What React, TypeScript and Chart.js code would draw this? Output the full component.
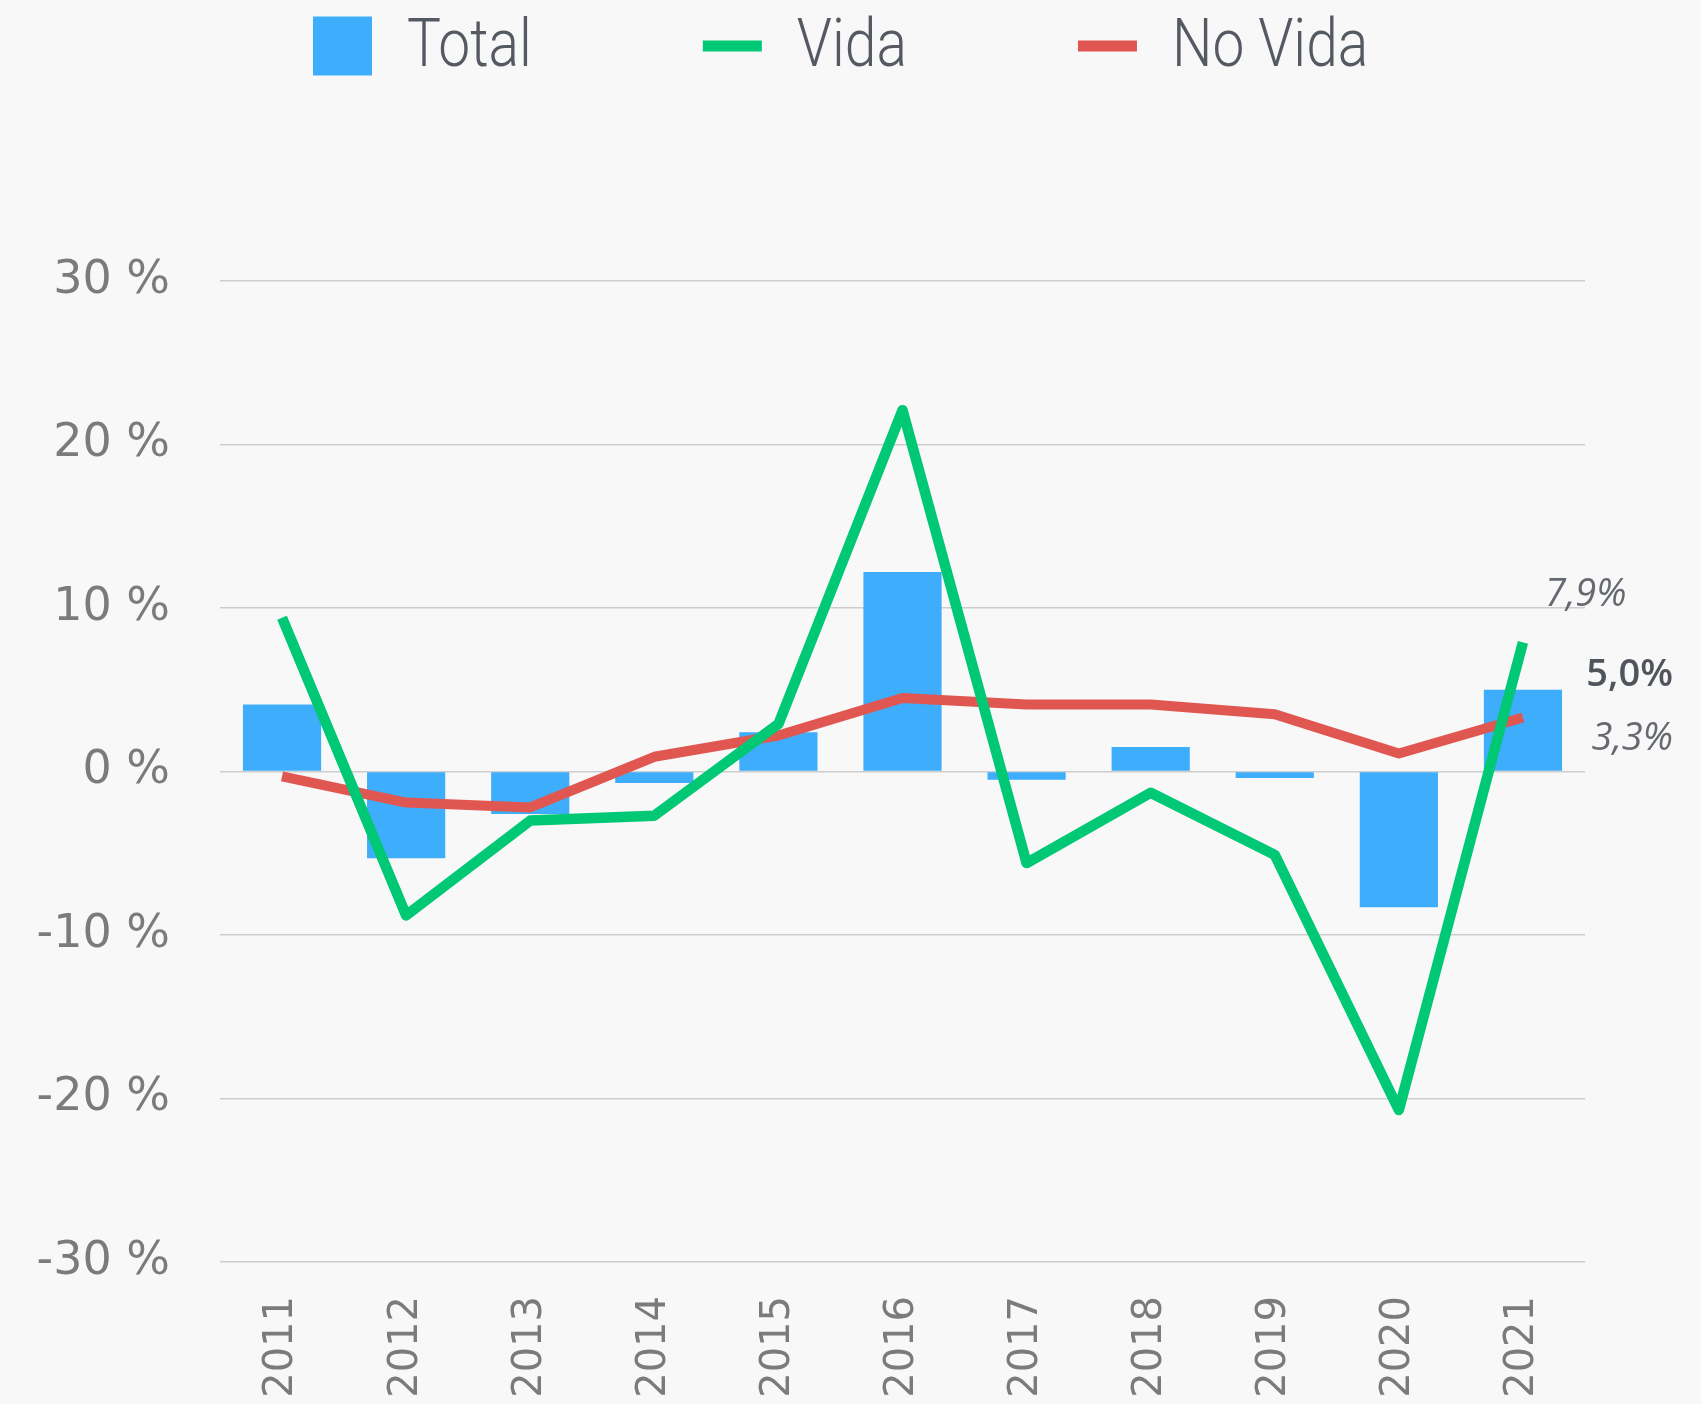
import React, { useEffect, useRef } from "react";
import { Chart, registerables } from "chart.js";

Chart.register(...registerables);

const years = ["2011", "2012", "2013", "2014", "2015", "2016", "2017", "2018", "2019", "2020", "2021"];
const totalValues = [4.1, -5.3, -2.6, -0.7, 2.4, 12.2, -0.5, 1.5, -0.4, -8.3, 5.0];
const vidaValues = [9.4, -8.8, -3.0, -2.7, 2.9, 22.1, -5.6, -1.3, -5.1, -20.7, 7.9];
const noVidaValues = [-0.3, -1.9, -2.2, 0.9, 2.2, 4.5, 4.1, 4.1, 3.5, 1.1, 3.3];
const seriesNames = ["Total", "Vida", "No Vida"];
const endLabels = ["7,9%", "5,0%", "3,3%"];

const BG = "#f8f8f8";
const BLUE = "#3eadfc";
const GREEN = "#00c875";
const RED = "#e05751";

const legendAndLabels = {
  id: "legendAndLabels",
  beforeDraw(chart: any) {
    const ctx = chart.ctx;
    ctx.save();
    ctx.fillStyle = BG;
    ctx.fillRect(0, 0, chart.width, chart.height);
    ctx.restore();
  },
  afterDraw(chart: any) {
    const ctx = chart.ctx;
    ctx.save();
    // legend
    const items = [
      { text: seriesNames[0], color: BLUE, kind: "box" },
      { text: seriesNames[1], color: GREEN, kind: "line" },
      { text: seriesNames[2], color: RED, kind: "line" },
    ];
    const sx = 0.85;
    ctx.font = '300 67px Roboto, "DejaVu Sans Condensed", sans-serif';
    ctx.textBaseline = "middle";
    ctx.textAlign = "left";
    let x = 313;
    const cy = 46;
    const sym = 59;
    for (const it of items) {
      ctx.fillStyle = it.color;
      if (it.kind === "box") {
        ctx.fillRect(x, cy - sym / 2, sym, sym);
      } else {
        ctx.fillRect(x, cy - 5.5, sym, 11);
      }
      const tx = x + sym + 35;
      ctx.fillStyle = "#555a62";
      ctx.save();
      ctx.translate(tx, cy + 3);
      ctx.scale(sx, 1);
      ctx.fillText(it.text, 0, 0);
      ctx.restore();
      const w = ctx.measureText(it.text).width * sx;
      x = tx + w + 171;
    }

    // end labels
    const xs = chart.scales.x;
    const ys = chart.scales.y;
    const last = years.length - 1;
    const ax = xs.getPixelForValue(last);
    ctx.textBaseline = "middle";
    ctx.font = 'italic 38px "Open Sans", sans-serif';
    ctx.fillStyle = "#666a70";
    ctx.textAlign = "left";
    ctx.fillText(endLabels[0], ax + 22, ys.getPixelForValue(vidaValues[last]) - 47);
    ctx.textAlign = "right";
    ctx.font = '600 38px "Open Sans", sans-serif';
    ctx.fillStyle = "#50555c";
    ctx.fillText(endLabels[1], ax + 150, ys.getPixelForValue(totalValues[last]) - 15);
    ctx.font = 'italic 38px "Open Sans", sans-serif';
    ctx.fillStyle = "#666a70";
    ctx.fillText(endLabels[2], ax + 150, ys.getPixelForValue(noVidaValues[last]) + 22);
    ctx.restore();
  },
};

export default function App() {
  const ref = useRef<HTMLCanvasElement | null>(null);
  useEffect(() => {
    document.body.style.margin = "0";
    document.body.style.background = BG;
    const canvas = ref.current!;
    const chart = new Chart(canvas, {
      type: "bar",
      data: {
        labels: years,
        datasets: [
          {
            type: "line",
            label: seriesNames[1],
            data: vidaValues,
            borderColor: GREEN,
            backgroundColor: GREEN,
            borderWidth: 10.5,
            pointRadius: 0,
            tension: 0,
            borderJoinStyle: "round",
            borderCapStyle: "butt",
            order: 0,
          } as any,
          {
            type: "line",
            label: seriesNames[2],
            data: noVidaValues,
            borderColor: RED,
            backgroundColor: RED,
            borderWidth: 10,
            pointRadius: 0,
            tension: 0,
            borderJoinStyle: "round",
            borderCapStyle: "butt",
            order: 1,
          } as any,
          {
            type: "bar",
            label: seriesNames[0],
            data: totalValues,
            backgroundColor: BLUE,
            borderWidth: 0,
            categoryPercentage: 1,
            barPercentage: 0.63,
            order: 2,
          } as any,
        ],
      },
      options: {
        animation: false,
        responsive: false,
        layout: { padding: { top: 281, right: 116, left: 0, bottom: 0 } },
        plugins: { legend: { display: false }, tooltip: { enabled: false } },
        scales: {
          x: {
            grid: { display: false, drawTicks: false },
            border: { display: false },
            ticks: {
              color: "#7b7b7b",
              font: { family: '"DejaVu Sans", sans-serif', size: 40 },
              maxRotation: 90,
              minRotation: 90,
              padding: 34,
              autoSkip: false,
            },
            afterFit(scale: any) {
              scale.height = 142;
            },
          },
          y: {
            min: -30,
            max: 30,
            grid: { color: "#cdcdcd", lineWidth: 1.5, drawTicks: false },
            border: { display: false },
            ticks: {
              stepSize: 10,
              color: "#7b7b7b",
              font: { family: '"DejaVu Sans", sans-serif', size: 46 },
              padding: 50,
              callback: (v: any) => `${v} %`,
            },
            afterFit(scale: any) {
              scale.width = 220;
            },
          },
        },
      } as any,
      plugins: [legendAndLabels],
    });
    return () => chart.destroy();
  }, []);
  return (
    <div style={{ width: 1701, height: 1404, background: BG }}>
      <canvas ref={ref} width={1701} height={1404} style={{ display: "block" }} />
    </div>
  );
}
